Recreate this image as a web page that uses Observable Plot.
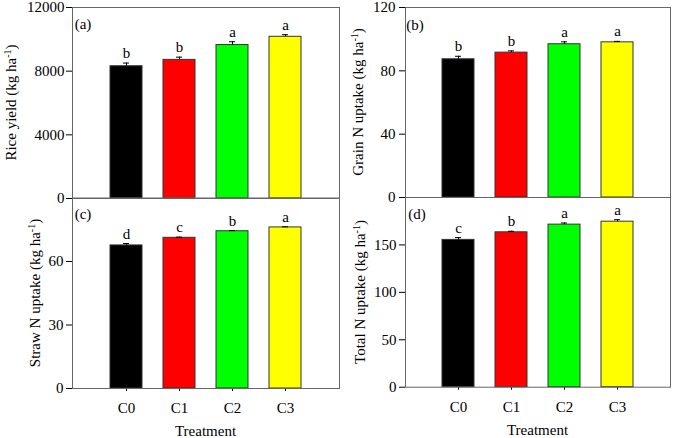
<!DOCTYPE html>
<html>
<head>
<meta charset="utf-8">
<script src="https://cdn.jsdelivr.net/npm/d3@7"></script>
<script src="https://cdn.jsdelivr.net/npm/@observablehq/plot@0.6"></script>
<style>
  html, body { margin: 0; padding: 0; background: #fff; }
  #chart { position: relative; width: 675px; height: 438px; background: #fff; overflow: hidden; }
  #chart svg { position: absolute; }
</style>
</head>
<body>
<div id="chart"></div>
<script>
// ---- data ----
const treatments = ["C0", "C1", "C2", "C3"];
const barColors = ["#000000", "#ff0000", "#00ff00", "#ffff00"];

const riceYield = [8310, 8710, 9640, 10160];
const riceYieldErr = [200, 170, 210, 130];
const riceYieldLetters = ["b", "b", "a", "a"];
const riceYieldTicks = [0, 4000, 8000, 12000];

const grainN = [87.3, 91.5, 96.8, 98.0];
const grainNErr = [1.9, 1.1, 1.5, 0.6];
const grainNLetters = ["b", "b", "a", "a"];
const grainNTicks = [0, 40, 80, 120];

const strawN = [67.6, 71.2, 74.3, 76.1];
const strawNErr = [0.9, 0.3, 0.3, 0.3];
const strawNLetters = ["d", "c", "b", "a"];
const strawNTicks = [0, 30, 60];

const totalN = [155.3, 163.3, 171.4, 174.5];
const totalNErr = [2.4, 1.1, 1.7, 2.1];
const totalNLetters = ["c", "b", "a", "a"];
const totalNTicks = [0, 50, 100, 150];

const FONT = '"Liberation Serif", "Times New Roman", serif';
const chart = document.getElementById("chart");

function panel(o) {
  const data = treatments.map((t, i) => ({
    t, v: o.values[i], e: o.errs[i], top: o.values[i] + o.errs[i], l: o.letters[i], c: barColors[i]
  }));
  const svg = Plot.plot({
    width: o.width, height: o.height,
    marginLeft: o.ml, marginRight: o.mr, marginTop: o.mt, marginBottom: o.mb,
    style: { background: "transparent", overflow: "visible", fontFamily: FONT, fontSize: "15px", color: "black" },
    x: { domain: treatments, paddingInner: 0.4, paddingOuter: 0.7, axis: o.xAxis ? "bottom" : null,
         tickSize: 3, tickPadding: 11, label: null },
    y: { domain: o.domain, ticks: o.ticks, tickFormat: d3.format("d"), tickSize: 6, tickPadding: o.tickPad, label: null },
    color: { type: "identity" },
    marks: [
      Plot.barY(data, { x: "t", y: "v", fill: "c", stroke: "#333", strokeWidth: 1 }),
      Plot.ruleX(data, { x: "t", y1: "v", y2: "top", stroke: "black", strokeWidth: 1 }),
      Plot.tickY(data, { x: "t", y: "top", stroke: "black", strokeWidth: 1, insetLeft: 13, insetRight: 13 }),
      Plot.text(data, { x: "t", y: "top", text: "l", dy: -5, lineAnchor: "bottom", fontSize: 15, fill: "black" }),
      Plot.frame({ stroke: "#666", strokeWidth: 1 })
    ]
  });
  svg.style.left = o.left + "px";
  svg.style.top = o.top + "px";
  const s = d3.select(svg);
  s.selectAll("g[aria-label='y-axis'] path, g[aria-label='x-axis'] path").attr("stroke", "#555");
  // y title with superscript
  const yt = s.append("text")
    .attr("transform", `translate(${o.titleX},${o.titleY}) rotate(-90)`)
    .attr("text-anchor", "middle")
    .attr("font-family", FONT).attr("font-size", 15).attr("fill", "black");
  yt.append("tspan").text(o.title + " (kg ha");
  yt.append("tspan").attr("baseline-shift", "super").attr("font-size", 10).text("-1");
  yt.append("tspan").text(")");
  // panel tag
  s.append("text").attr("x", o.tagX).attr("y", o.tagY)
    .attr("font-family", FONT).attr("font-size", 15).attr("fill", "black").text(o.tag);
  if (o.xAxis) {
    s.append("text").attr("x", (o.ml + o.width - o.mr) / 2).attr("y", o.xTitleY)
      .attr("text-anchor", "middle")
      .attr("font-family", FONT).attr("font-size", 15).attr("fill", "black").text("Treatment");
  }
  chart.appendChild(svg);
}

panel({ values: riceYield, errs: riceYieldErr, letters: riceYieldLetters, domain: [0, 12000], ticks: riceYieldTicks,
  title: "Rice yield", tag: "(a)", xAxis: false, left: 0, top: 0, width: 345, height: 205,
  ml: 72, mr: 6, mt: 7, mb: 7, tickPad: 2, titleX: 16, titleY: 102.5, tagX: 83, tagY: 29 });

panel({ values: grainN, errs: grainNErr, letters: grainNLetters, domain: [0, 120], ticks: grainNTicks,
  title: "Grain N uptake", tag: "(b)", xAxis: false, left: 335, top: 0, width: 340, height: 205,
  ml: 70, mr: 5, mt: 7, mb: 8, tickPad: 4, titleX: 28, titleY: 102, tagX: 80, tagY: 30 });

panel({ values: strawN, errs: strawNErr, letters: strawNLetters, domain: [0, 90], ticks: strawNTicks,
  title: "Straw N uptake", tag: "(c)", xAxis: true, left: 0, top: 190, width: 345, height: 248,
  ml: 72, mr: 6, mt: 7.5, mb: 50, tickPad: 3, titleX: 39.5, titleY: 103, tagX: 83, tagY: 29, xTitleY: 246 });

panel({ values: totalN, errs: totalNErr, letters: totalNLetters, domain: [0, 200], ticks: totalNTicks,
  title: "Total N uptake", tag: "(d)", xAxis: true, left: 335, top: 190, width: 340, height: 248,
  ml: 70, mr: 5, mt: 7, mb: 51.3, tickPad: 3, titleX: 30, titleY: 102, tagX: 82, tagY: 29, xTitleY: 245 });
</script>
</body>
</html>
